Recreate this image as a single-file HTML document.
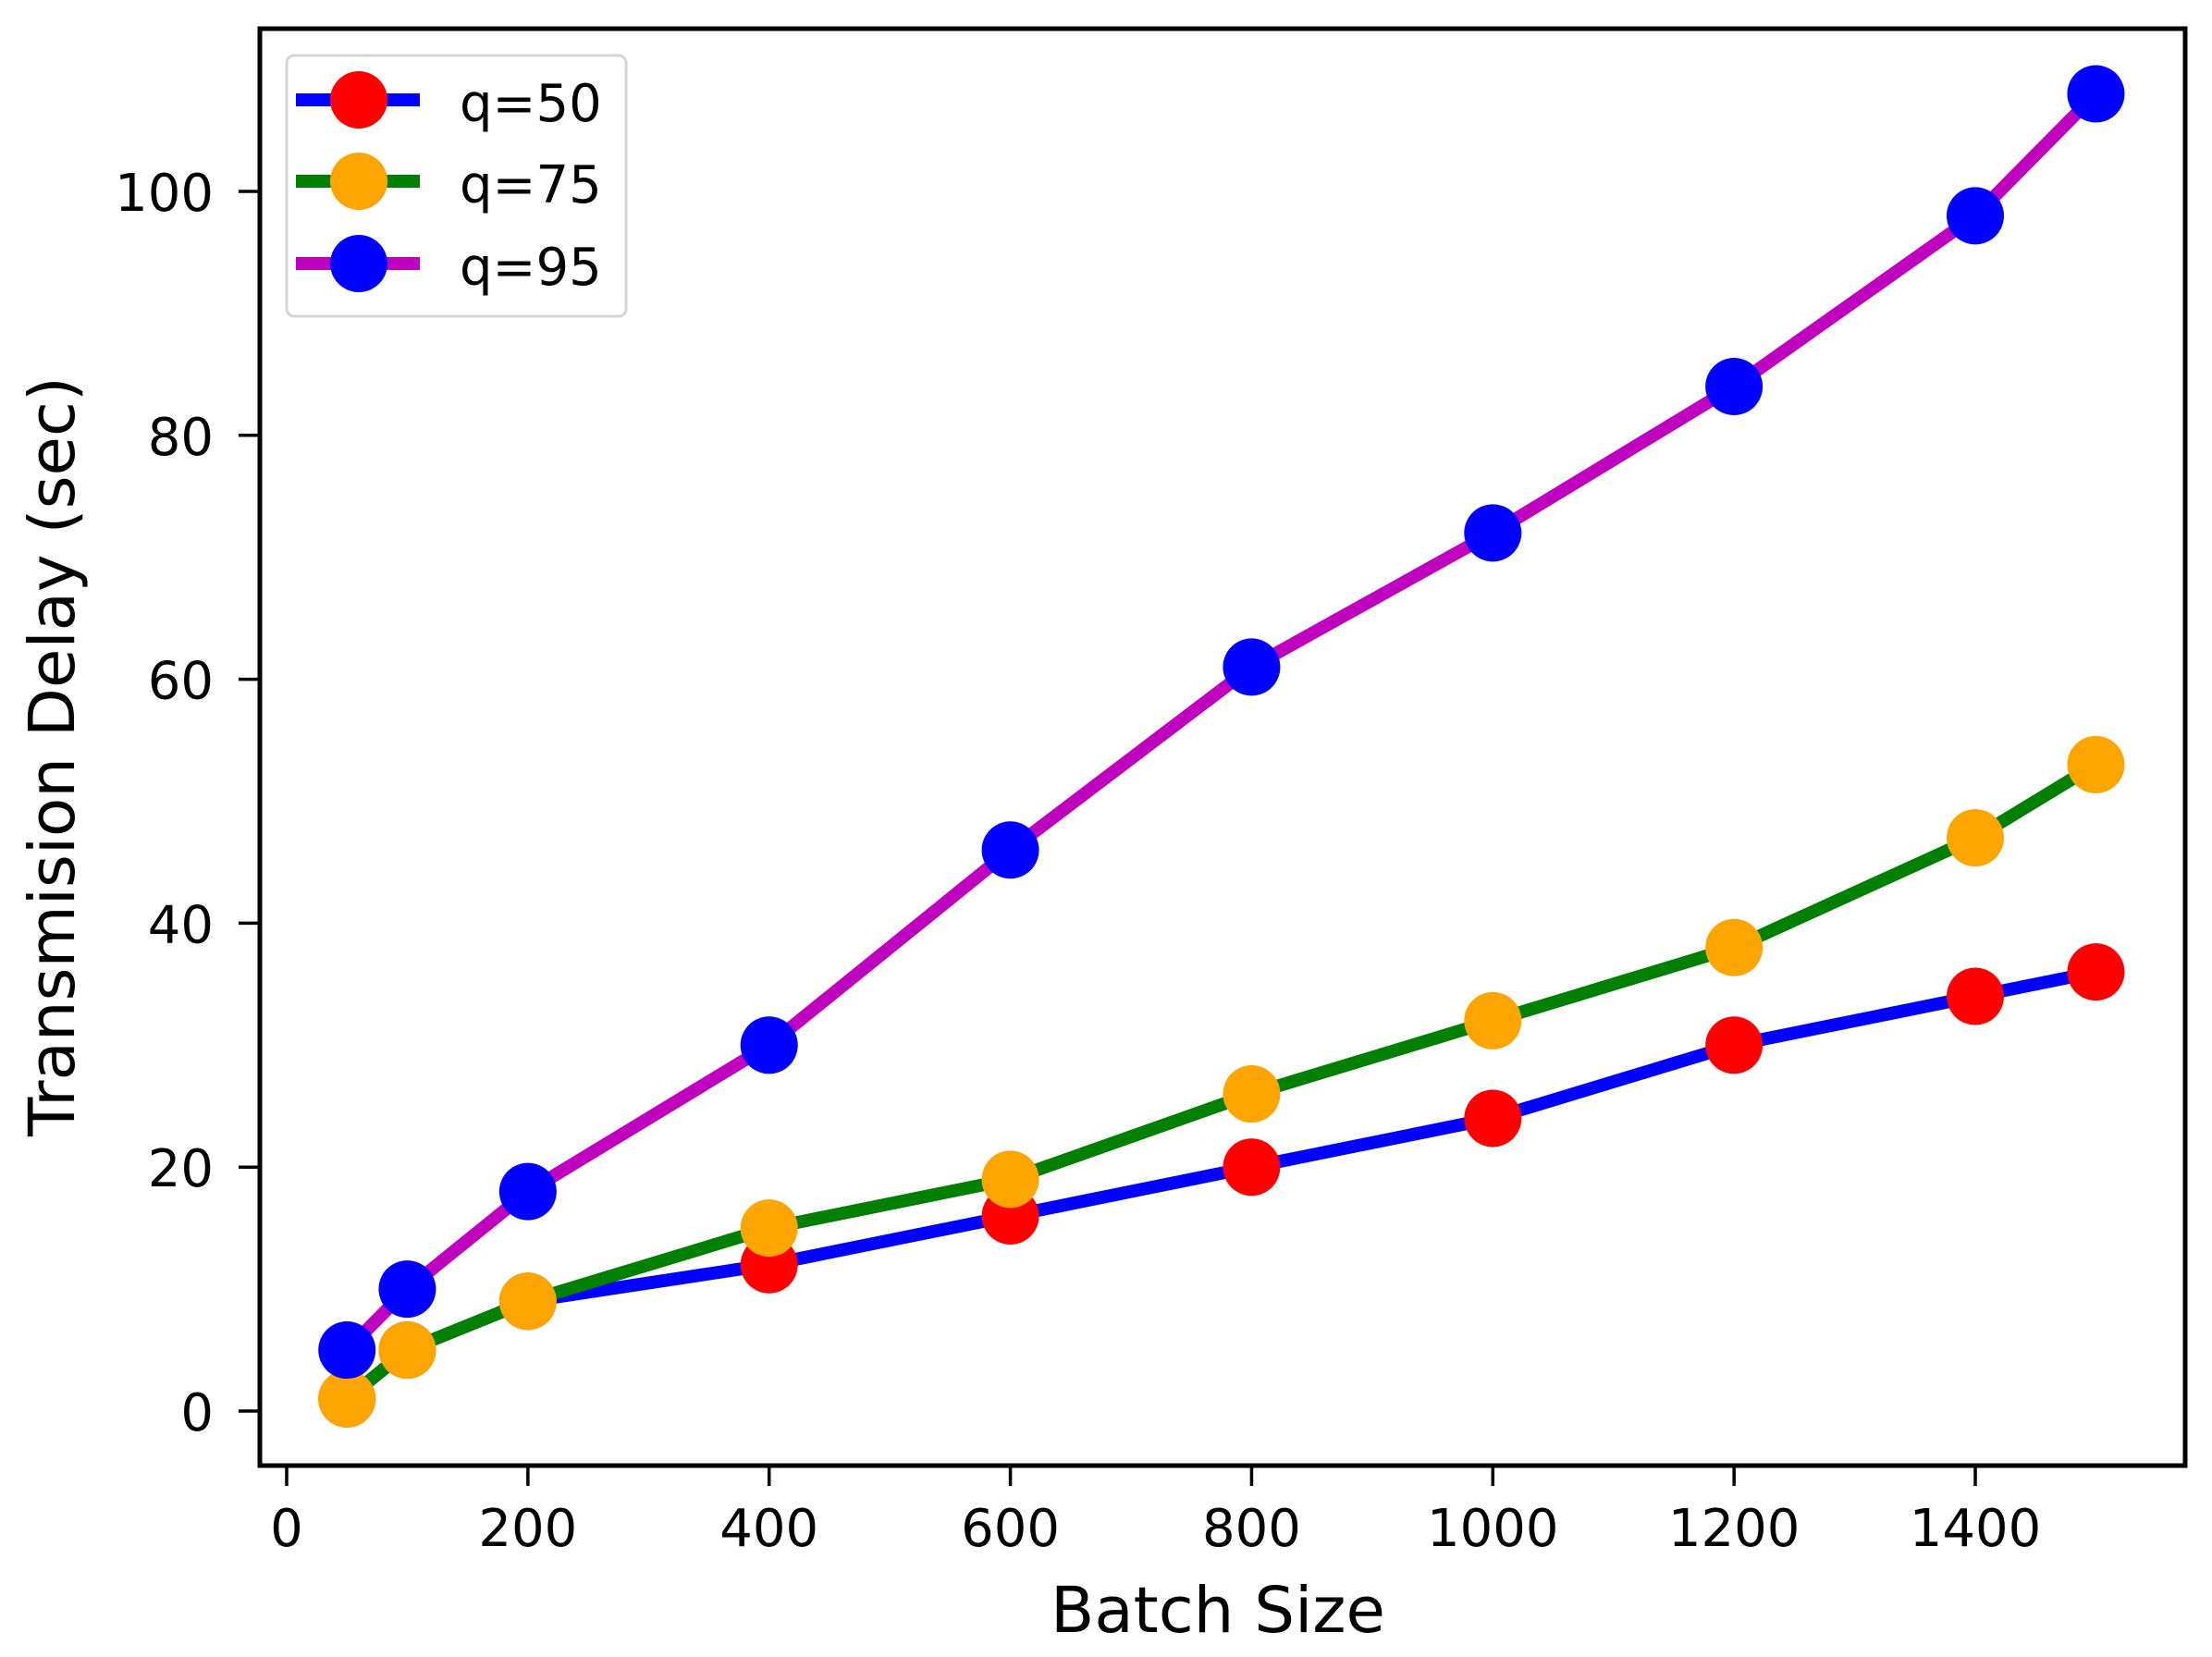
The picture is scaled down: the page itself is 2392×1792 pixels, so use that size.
<!DOCTYPE html>
<html><head><meta charset="utf-8"><style>
html,body{margin:0;padding:0;background:#fff;}
svg{display:block;}
text{font-family:"DejaVu Sans","Liberation Sans",sans-serif;fill:#000;}
</style></head><body>
<svg width="2392" height="1792" viewBox="0 0 2392 1792" xmlns="http://www.w3.org/2000/svg">
<rect width="2392" height="1792" fill="#fff"/>
<g id="plot"></g>
<rect x="281" y="31" width="2082" height="1554" fill="none" stroke="#000" stroke-width="5"/>
<g id="ticks" stroke="#000" stroke-width="3.5"></g>
<g id="labels"></g>
<text x="1317" y="1765" font-size="69" text-anchor="middle">Batch Size</text>
<text transform="translate(80,818) rotate(-90)" font-size="69" text-anchor="middle">Transmision Delay (sec)</text>
<rect x="310" y="60" width="367" height="282" rx="8" fill="#fff" stroke="#d6d6d6" stroke-width="3"/>
<line x1="320" y1="108" x2="454" y2="108" stroke="#0000ff" stroke-width="14"/>
<circle cx="388" cy="108" r="31" fill="#ff0000"/>
<line x1="320" y1="196" x2="454" y2="196" stroke="#008000" stroke-width="14"/>
<circle cx="388" cy="196" r="31" fill="#ffa500"/>
<line x1="320" y1="285" x2="454" y2="285" stroke="#bf00bf" stroke-width="14"/>
<circle cx="388" cy="285" r="31" fill="#0000ff"/>
<text x="497" y="131" font-size="56">q=50</text>
<text x="497" y="219" font-size="56">q=75</text>
<text x="497" y="308" font-size="56">q=95</text>
<script>
(function(){
var NS="http://www.w3.org/2000/svg";
function X(v){return 310+v*1.3043;}
function Y(v){return 1526-v*13.19;}
var xs=[50,100,200,400,600,800,1000,1200,1400,1500];
var S=[
 {d:[1,5,9,12,16,20,24,30,34,36],l:"#0000ff",m:"#ff0000"},
 {d:[1,5,9,15,19,26,32,38,47,53],l:"#008000",m:"#ffa500"},
 {d:[5,10,18,30,46,61,72,84,98,108],l:"#bf00bf",m:"#0000ff"}
];
var g=document.getElementById("plot");
S.forEach(function(s){
 var pts=xs.map(function(x,i){return X(x).toFixed(1)+","+Y(s.d[i]).toFixed(1);}).join(" ");
 var pl=document.createElementNS(NS,"polyline");
 pl.setAttribute("points",pts);pl.setAttribute("fill","none");
 pl.setAttribute("stroke",s.l);pl.setAttribute("stroke-width","14");
 pl.setAttribute("stroke-linejoin","round");
 g.appendChild(pl);
 xs.forEach(function(x,i){
  var c=document.createElementNS(NS,"circle");
  c.setAttribute("cx",X(x));c.setAttribute("cy",Y(s.d[i]));c.setAttribute("r","31");
  c.setAttribute("fill",s.m);g.appendChild(c);
 });
});
var t=document.getElementById("ticks"),lb=document.getElementById("labels");
for(var v=0;v<=1400;v+=200){
 var l=document.createElementNS(NS,"line");
 l.setAttribute("x1",X(v));l.setAttribute("x2",X(v));l.setAttribute("y1",1585);l.setAttribute("y2",1607);
 t.appendChild(l);
 var tx=document.createElementNS(NS,"text");
 tx.setAttribute("x",X(v));tx.setAttribute("y",1672);tx.setAttribute("font-size","56");
 tx.setAttribute("text-anchor","middle");tx.textContent=v;lb.appendChild(tx);
}
for(var v=0;v<=100;v+=20){
 var l=document.createElementNS(NS,"line");
 l.setAttribute("y1",Y(v));l.setAttribute("y2",Y(v));l.setAttribute("x1",258);l.setAttribute("x2",281);
 t.appendChild(l);
 var tx=document.createElementNS(NS,"text");
 tx.setAttribute("x",231);tx.setAttribute("y",Y(v)+21);tx.setAttribute("font-size","56");
 tx.setAttribute("text-anchor","end");tx.textContent=v;lb.appendChild(tx);
}
})();
</script>
</svg>
</body></html>
